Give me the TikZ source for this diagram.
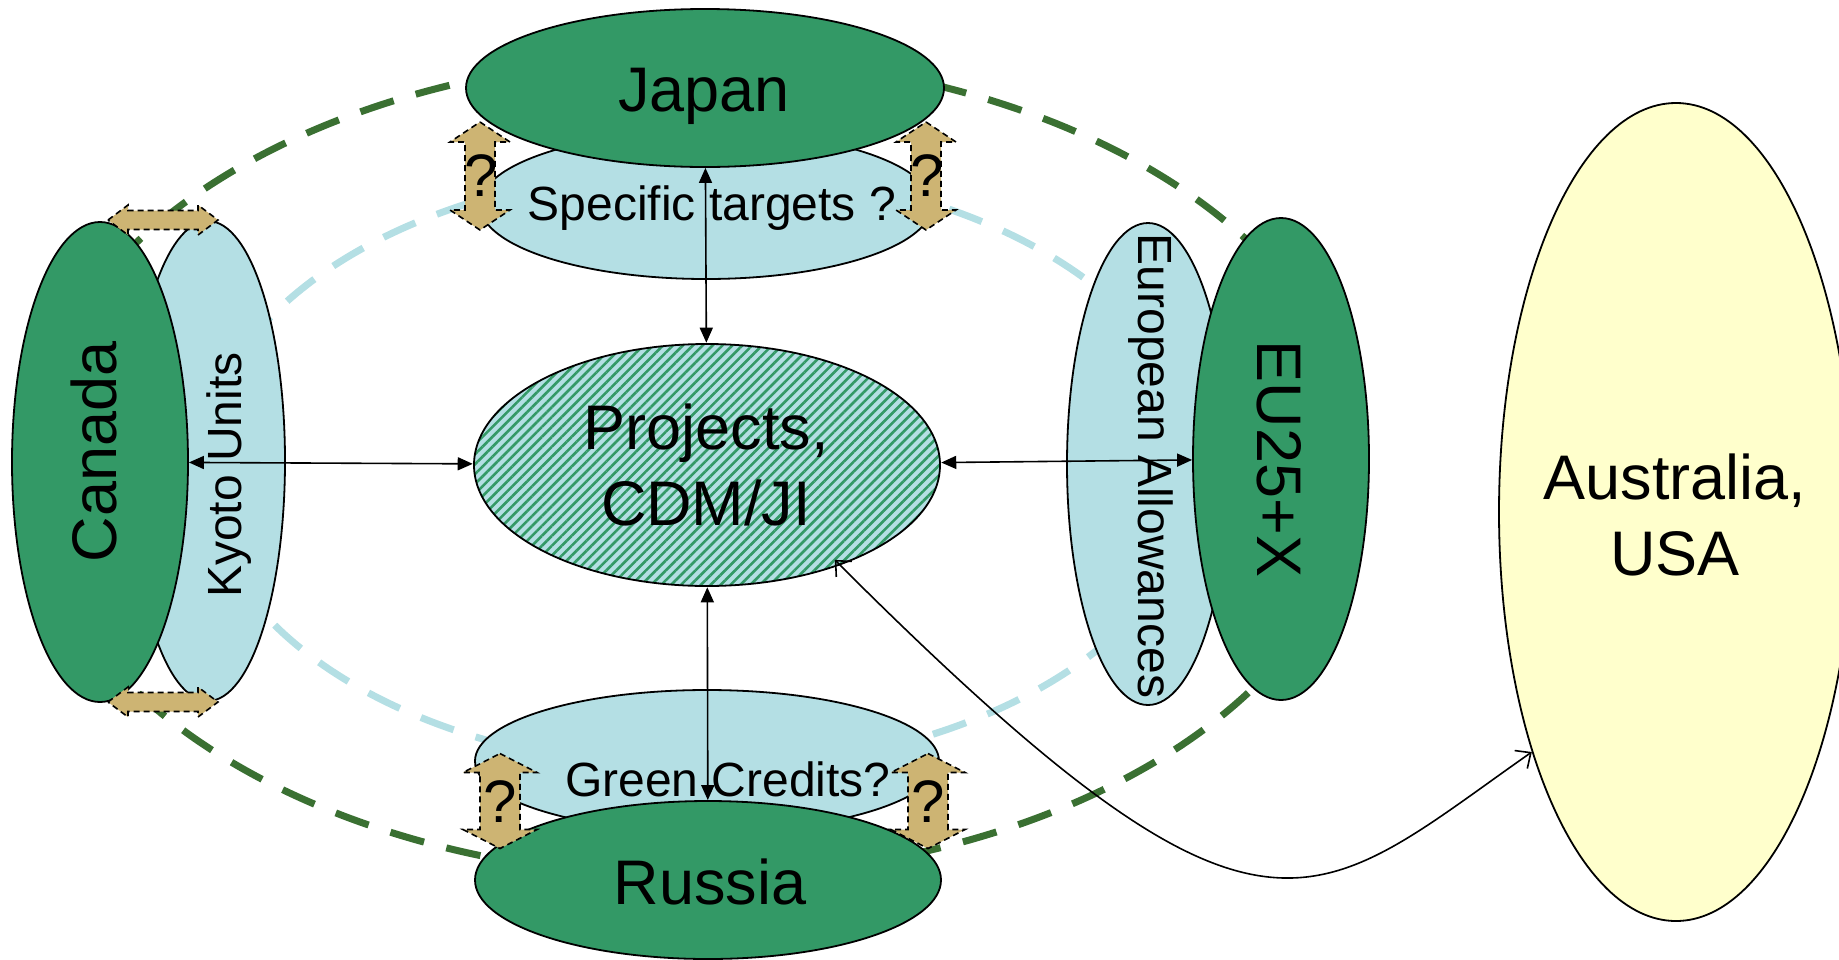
\documentclass[tikz,border=0pt]{standalone}
\usepackage{fontspec}
\setmainfont{Liberation Sans}
\usetikzlibrary{shapes.geometric, arrows.meta, patterns.meta}

\definecolor{nodegreen}{RGB}{51,153,102}
\definecolor{paleblue}{RGB}{180,223,228}
\definecolor{tanfill}{RGB}{205,180,115}
\definecolor{ringgreen}{RGB}{58,112,50}
\definecolor{paleyellow}{RGB}{255,255,204}

\newcommand\bigfont{\fontsize{63}{76}\selectfont}
\newcommand\smallfont{\fontsize{48}{58}\selectfont}
\newcommand\askfont{\fontsize{60}{70}\selectfont}

\tikzset{
  country/.style={ellipse, draw=black, line width=1.8pt, fill=nodegreen, inner sep=0pt},
  market/.style={ellipse, draw=black, line width=1.8pt, fill=paleblue, inner sep=0pt},
  ring/.style={line width=7pt, dash pattern=on 35pt off 23pt},
  link/.style={line width=1.6pt, {Triangle[length=15pt,width=13pt]}-{Triangle[length=15pt,width=13pt]}},
  swing/.style={line width=1.6pt, {Straight Barb[length=12pt,width=22pt]}-{Straight Barb[length=12pt,width=22pt]}},
  exchange/.style={fill=tanfill, draw=black, line width=1.6pt, dash pattern=on 6pt off 4pt, line join=miter},
  bigtext/.style={font=\bigfont, inner sep=0pt},
  smalltext/.style={font=\smallfont, inner sep=0pt},
  asktext/.style={font=\askfont, inner sep=0pt},
  arrow len/.store in=\arrLen, head span/.store in=\arrHead,
  shaft span/.store in=\arrShaft, head len/.store in=\arrTip,
  arrow len=100, head span=60, shaft span=30, head len=20,
  pics/twoway/.style={code={
    \draw[exchange] (0,-\arrLen/2) -- (\arrHead/2,-\arrLen/2+\arrTip)
      -- (\arrShaft/2,-\arrLen/2+\arrTip) -- (\arrShaft/2,\arrLen/2-\arrTip)
      -- (\arrHead/2,\arrLen/2-\arrTip) -- (0,\arrLen/2)
      -- (-\arrHead/2,\arrLen/2-\arrTip) -- (-\arrShaft/2,\arrLen/2-\arrTip)
      -- (-\arrShaft/2,-\arrLen/2+\arrTip) -- (-\arrHead/2,-\arrLen/2+\arrTip) -- cycle;
  }}
}

\begin{document}
\begin{tikzpicture}[x=1pt, y=-1pt]
\useasboundingbox (0,0) rectangle (1839,959);
\clip (0,0) rectangle (1839,959);

% outer trading rings
\draw[ring, ringgreen] (693,467) ellipse [x radius=665pt, y radius=410pt];
\draw[ring, paleblue] (700,469) ellipse [x radius=498pt, y radius=300pt];

% unit markets behind the parties
\node[market, minimum width=452pt, minimum height=148pt] (specific) at (706,205) {};
\node[market, minimum width=154pt, minimum height=480pt] (kyoto) at (208,461) {};
\node[market, minimum width=162pt, minimum height=482pt] (euro) at (1148,464) {};
\node[market, minimum width=464pt, minimum height=142pt] (green) at (707,761) {};

% parties
\node[country, minimum width=478pt, minimum height=158pt] (japan) at (705,88) {};
\node[country, minimum width=176pt, minimum height=480pt] (canada) at (100,462) {};
\node[country, minimum width=176pt, minimum height=482pt] (eu) at (1281,459) {};
\node[country, minimum width=466pt, minimum height=158pt] (russia) at (708,880) {};

% project mechanisms
\node[ellipse, draw=black, line width=1.8pt, inner sep=0pt,
      minimum width=466pt, minimum height=242pt,
      preaction={fill=paleblue},
      pattern={Lines[angle=45, distance=7pt, line width=2.6pt]}, pattern color=nodegreen]
      (projects) at (707,465) {};

% outside parties
\node[ellipse, draw=black, line width=1.8pt, fill=paleyellow, inner sep=0pt,
      minimum width=354pt, minimum height=818pt] (aus) at (1676,512) {};

% labels
\node[bigtext, anchor=base] (japan-t) at (704,111) {Japan};
\node[smalltext, anchor=base] (specific-t) at (712,220) {Specific targets ?};
\node[bigtext, rotate=90] (canada-t) at (94,452) {Canada};
\node[smalltext, rotate=90, anchor=base] (kyoto-t) at (241,475) {Kyoto Units};
\node[smalltext, rotate=-90, anchor=base] (euro-t) at (1138,466) {European Allowances};
\node[bigtext, rotate=-90] (eu-t) at (1279,459) {EU25+X};
\node[bigtext, align=center] (projects-t) at (706,465) {Projects,\\CDM/JI};
\node[smalltext, anchor=base] (green-t) at (728,796) {Green Credits?};
\node[bigtext, anchor=base] (russia-t) at (710,904) {Russia};
\node[bigtext, align=center] (aus-t) at (1675,515) {Australia,\\USA};

% links
\draw[link] (canada) -- (projects);
\draw[link] (projects) -- (eu);
\draw[link] (japan) -- (projects);
\draw[link] (projects) -- (russia);
\draw[swing, shorten <=-8pt] (projects.-37) .. controls (1265,990) and (1309,908) .. (aus.-121);

% uncertain exchanges
\pic[arrow len=108, head span=60, shaft span=30, head len=20] at (480,176) {twoway};
\pic[arrow len=108, head span=60, shaft span=30, head len=20] at (926,176) {twoway};
\pic[arrow len=95, head span=74, shaft span=40, head len=19] at (500,801) {twoway};
\pic[arrow len=95, head span=74, shaft span=40, head len=19] at (928,801) {twoway};
\pic[rotate=90, arrow len=110, head span=30, shaft span=19, head len=20] at (163,220) {twoway};
\pic[rotate=90, arrow len=110, head span=30, shaft span=19, head len=20] at (163,702) {twoway};

\node[asktext] (ask-tl) at (481,176) {?};
\node[asktext] (ask-tr) at (927,176) {?};
\node[asktext] (ask-bl) at (500,802) {?};
\node[asktext] (ask-br) at (928,802) {?};
\end{tikzpicture}
\end{document}
